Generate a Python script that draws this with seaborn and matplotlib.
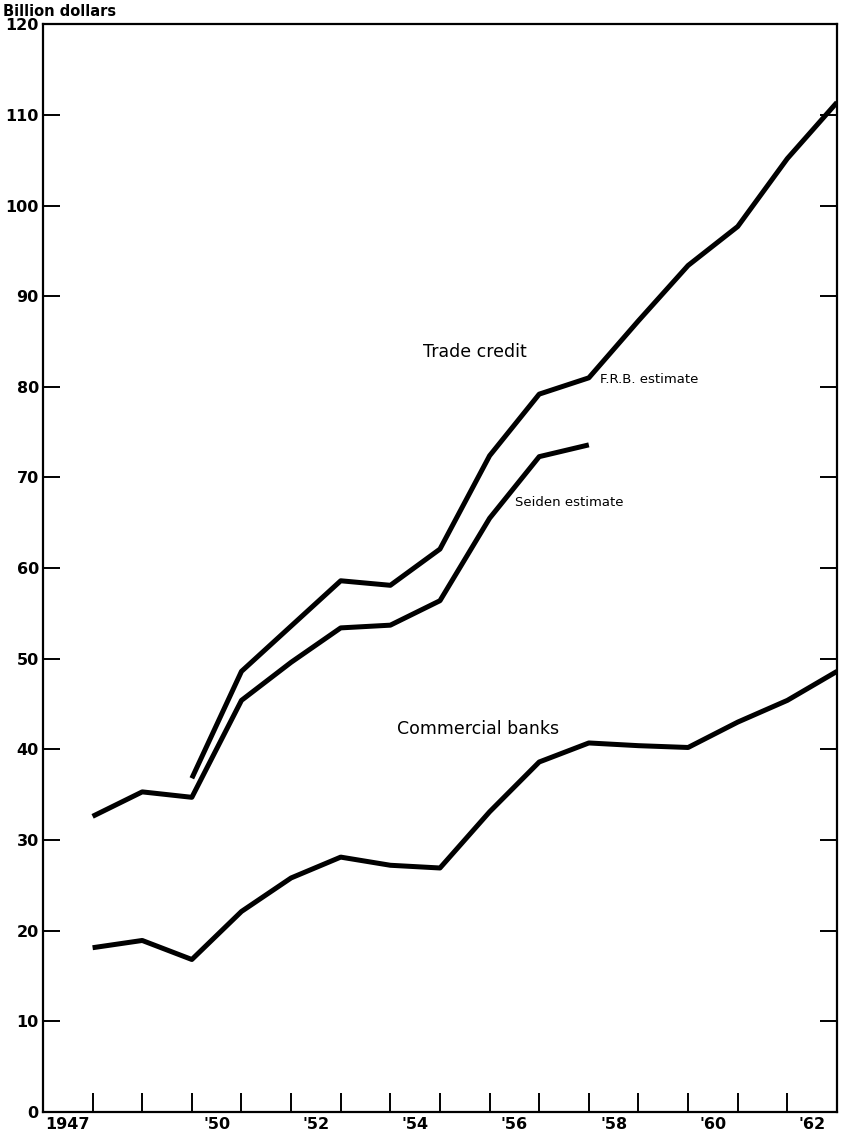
"""
Trade credit vs. commercial bank credit, 1947-62 (year-end values).
"""

import numpy as np
import pandas as pd
import matplotlib
matplotlib.use("Agg")
import matplotlib.pyplot as plt
import seaborn as sns


# ── Data ──────────────────────────────────────────────────────────────────────

frb_years = list(range(1949, 1963))
frb_estimate = [36.8, 48.6, 53.6, 58.6, 58.1, 62.1, 72.4, 79.2,
                81.0, 87.3, 93.4, 97.7, 105.2, 111.4]
seiden_years = list(range(1947, 1958))
seiden_estimate = [32.6, 35.3, 34.7, 45.4, 49.6, 53.4, 53.7, 56.4,
                   65.5, 72.3, 73.6]
bank_years = list(range(1947, 1963))
commercial_banks = [18.1, 18.9, 16.8, 22.1, 25.8, 28.1, 27.2, 26.9,
                    33.1, 38.6, 40.7, 40.4, 40.2, 43.0, 45.4, 48.6]

tick_labels = ["1947", "'50", "'52", "'54", "'56", "'58", "'60", "'62"]
label_years = [1947, 1950, 1952, 1954, 1956, 1958, 1960, 1962]


# ── Plot ──────────────────────────────────────────────────────────────────────

sns.set_style("ticks")
plt.rcParams["font.family"] = ["DejaVu Sans"]
plt.rcParams["text.color"] = "black"
plt.rcParams["xtick.color"] = "black"
plt.rcParams["ytick.color"] = "black"

fig = plt.figure(figsize=(8.41, 11.38), dpi=100)
ax = fig.add_axes([0.0511, 0.0231, 0.9441, 0.9554])

# values are year-end figures, so plot each at the end of its year
frb_df = pd.DataFrame({"x": np.array(frb_years) + 1, "y": frb_estimate})
seiden_df = pd.DataFrame({"x": np.array(seiden_years) + 1, "y": seiden_estimate})
banks_df = pd.DataFrame({"x": np.array(bank_years) + 1, "y": commercial_banks})

line_kw = dict(color="black", linewidth=3.6, solid_joinstyle="round",
               solid_capstyle="butt", ax=ax, legend=False)
for df in (frb_df, seiden_df, banks_df):
    sns.lineplot(data=df, x="x", y="y", **line_kw)

ax.set_xlim(1947, 1963)
ax.set_ylim(0, 120)
ax.set_xlabel("")
ax.set_ylabel("")

# year-end ticks, labels centred on each year
ax.set_xticks(np.arange(1948, 1963))
ax.set_xticklabels([])
ax.set_xticks(np.array(label_years) + 0.5, minor=True)
ax.set_xticklabels(tick_labels, minor=True, fontsize=11.5, fontweight="semibold")
ax.tick_params(axis="x", which="major", direction="in", length=13.5, width=1.4)
ax.tick_params(axis="x", which="minor", length=0, pad=4)

ax.set_yticks(np.arange(0, 121, 10))
ax.tick_params(axis="y", which="major", direction="in", length=12, width=1.4,
               labelsize=11.5, right=True, pad=3)
for lbl in ax.get_yticklabels():
    lbl.set_fontweight("semibold")

for side in ("left", "right", "top", "bottom"):
    ax.spines[side].set_visible(True)
    ax.spines[side].set_linewidth(1.6)
    ax.spines[side].set_color("black")

# annotations
ax.text(1955.71, 83.9, "Trade credit", ha="center", va="center", fontsize=12.5)
ax.text(1958.23, 80.8, "F.R.B. estimate", ha="left", va="center", fontsize=9.5)
ax.text(1956.52, 67.2, "Seiden estimate", ha="left", va="center", fontsize=9.5)
ax.text(1955.77, 42.2, "Commercial banks", ha="center", va="center", fontsize=12.5)

fig.text(0.003, 1 - 11 / 1138, "Billion dollars", ha="left", va="center",
         fontsize=10.5, fontweight="semibold")

fig.savefig("out.png", dpi=100)
plt.close(fig)
